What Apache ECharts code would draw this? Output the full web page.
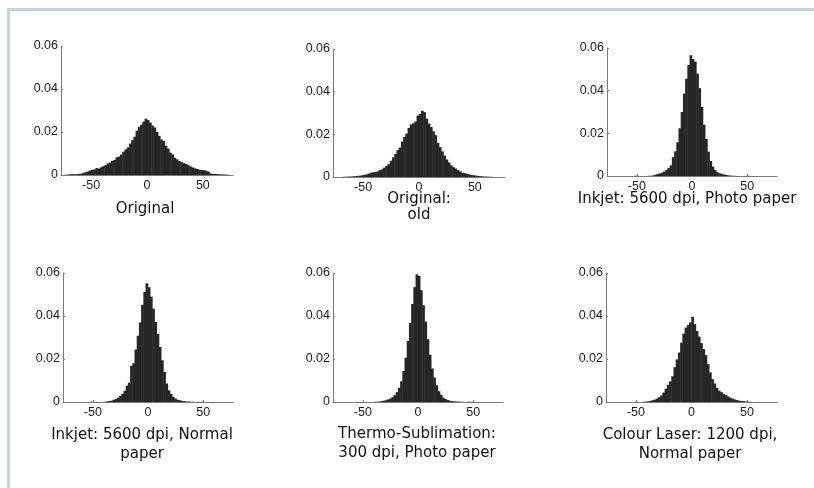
<!DOCTYPE html>
<html>
<head>
<meta charset="utf-8">
<script src="https://cdn.jsdelivr.net/npm/echarts@6/dist/echarts.min.js"></script>
<style>
  html, body { margin: 0; padding: 0; background: #fff; }
  #main { width: 814px; height: 488px; }
</style>
</head>
<body>
<div id="main"></div>
<script>
// bin centres (2-unit bins), shared by every panel
var binCenters = [-75, -73, -71, -69, -67, -65, -63, -61, -59, -57,
    -55, -53, -51, -49, -47, -45, -43, -41, -39, -37,
    -35, -33, -31, -29, -27, -25, -23, -21, -19, -17,
    -15, -13, -11, -9, -7, -5, -3, -1,
    1, 3, 5, 7, 9, 11, 13, 15, 17, 19,
    21, 23, 25, 27, 29, 31, 33, 35, 37, 39,
    41, 43, 45, 47, 49, 51, 53, 55, 57, 59,
    61, 63, 65, 67, 69, 71, 73, 75];

// relative frequency, in thousandths
var originalVals = [0, 0.1, 0.2, 0.3, 0.4, 0.3, 0.4, 0.5, 0.6, 0.9,
    1.3, 1.6, 2.1, 2.4, 2.6, 3.2, 3.0, 3.6, 4.1, 4.6,
    5.4, 5.8, 6.6, 7.0, 8.2, 8.6, 9.5, 10.8, 11.9, 12.8,
    14.6, 16.2, 17.8, 20.6, 22.4, 23.4, 24.8, 26.2,
    25.6, 24.4, 23.0, 22.1, 20.0, 18.2, 16.5, 15.8, 13.6, 12.3,
    10.4, 9.6, 8.0, 7.3, 6.5, 6.0, 5.5, 5.2, 4.6, 4.0,
    3.5, 3.1, 2.8, 2.5, 2.3, 2.2, 2.0, 1.6, 0.7, 0.5,
    0.5, 0.4, 0.3, 0.3, 0.2, 0.2, 0.1, 0];

var originalOldVals = [0, 0, 0, 0, 0.1, 0.1, 0.2, 0.2, 0.3, 0.4,
    0.5, 0.6, 0.8, 1.0, 1.2, 1.6, 2.0, 2.2, 2.4, 2.6,
    3.2, 3.6, 4.4, 5.2, 6.0, 7.6, 9.2, 10.8, 12.6, 13.8,
    16.6, 18.8, 20.4, 23.0, 24.6, 25.2, 26.0, 28.8,
    29.6, 31.0, 30.4, 27.4, 25.0, 23.4, 21.4, 19.6, 16.0, 14.0,
    12.0, 10.0, 8.2, 6.8, 5.4, 4.6, 4.0, 3.2, 2.6, 2.0,
    1.8, 1.5, 1.2, 1.0, 0.8, 0.6, 0.5, 0.4, 0.3, 0.2,
    0.2, 0.1, 0.1, 0, 0, 0, 0, 0];

var inkjetPhotoVals = [0, 0, 0, 0, 0, 0, 0, 0, 0, 0,
    0, 0, 0.1, 0.1, 0, 0, 0, 0, 0.1, 0.1,
    0.3, 0.6, 0.9, 1.2, 1.6, 2.1, 2.8, 3.8, 5.0, 8.8,
    11.6, 15.8, 22.4, 30.0, 38.6, 45.6, 52.0, 56.6,
    54.8, 53.6, 48.0, 41.2, 32.4, 24.0, 17.4, 11.4, 7.0, 4.4,
    2.8, 1.8, 1.3, 1.0, 0.7, 0.5, 0.3, 0.2, 0.1, 0.1,
    0, 0, 0, 0, 0, 0.1, 0, 0, 0, 0,
    0, 0, 0, 0, 0, 0, 0, 0];

var inkjetNormalVals = [0, 0, 0, 0, 0, 0, 0, 0, 0, 0,
    0, 0, 0.1, 0, 0, 0, 0, 0, 0.1, 0.3,
    0.4, 0.6, 1.0, 1.4, 2.0, 2.8, 3.8, 5.2, 7.6, 9.0,
    16.8, 18.0, 24.4, 30.8, 37.0, 45.2, 51.2, 55.2,
    53.4, 49.0, 43.4, 37.2, 31.6, 25.6, 19.4, 14.0, 8.6, 5.4,
    3.8, 2.4, 1.6, 1.0, 0.8, 0.5, 0.4, 0.2, 0.2, 0.1,
    0.1, 0, 0.1, 0, 0.1, 0, 0, 0, 0, 0,
    0, 0, 0, 0, 0, 0, 0, 0];

var thermoVals = [0, 0, 0, 0, 0, 0, 0, 0, 0, 0,
    0, 0, 0, 0, 0, 0, 0, 0, 0.1, 0.1,
    0.2, 0.4, 0.6, 0.8, 1.2, 1.6, 2.2, 3.2, 4.6, 6.6,
    9.6, 14.4, 20.6, 28.4, 36.8, 45.6, 53.4, 59.4,
    58.6, 52.0, 45.0, 37.4, 29.2, 22.0, 15.6, 11.4, 7.8, 5.0,
    3.4, 2.0, 1.4, 0.9, 0.6, 0.4, 0.3, 0.2, 0.2, 0.1,
    0.1, 0, 0.1, 0.1, 0.1, 0, 0, 0, 0, 0,
    0, 0, 0, 0, 0, 0, 0, 0];

var laserVals = [0, 0, 0, 0, 0, 0, 0, 0, 0, 0,
    0, 0, 0, 0.1, 0, 0, 0.1, 0.2, 0.3, 0.5,
    0.8, 1.1, 1.6, 2.2, 3.0, 4.4, 6.2, 8.0, 9.6, 12.0,
    16.2, 19.8, 23.0, 27.6, 31.8, 34.6, 35.8, 37.0,
    39.6, 36.2, 33.0, 30.4, 27.4, 24.6, 21.8, 17.6, 13.8, 10.6,
    8.6, 6.6, 5.2, 4.6, 3.8, 3.2, 2.6, 2.0, 1.6, 1.2,
    0.9, 0.6, 0.5, 0.4, 0.2, 0.1, 0.1, 0, 0, 0,
    0, 0, 0, 0, 0, 0, 0, 0];

var xTicks = [-50, 0, 50];

var panelVals = [originalVals, originalOldVals, inkjetPhotoVals,
    inkjetNormalVals, thermoVals, laserVals];
var panelTitles = ['Original', 'Original:\nold', 'Inkjet: 5600 dpi, Photo paper',
    'Inkjet: 5600 dpi, Normal\npaper', 'Thermo-Sublimation:\n300 dpi, Photo paper',
    'Colour Laser: 1200 dpi,\nNormal paper'];

// layout of each small plot: [left, top, width, height]
var grids = [
    [61, 46, 172, 129], [333, 49, 172, 128], [607, 48, 170, 128],
    [63, 273, 170, 129], [333, 273, 170, 129], [606, 273, 171, 129]
];
// title centre [x, y, lineHeight]
var titlePos = [
    [145, 209, 16], [419, 207, 16], [687, 199.5, 16],
    [142, 445, 19], [417, 444, 19], [690, 445, 19]
];

var axisColor = '#7a7a7a';
var labelStyle = { color: '#1a1a1a', fontFamily: 'Liberation Sans', fontSize: 12.5 };

var option = {
    animation: false,
    backgroundColor: '#fff',
    grid: [],
    xAxis: [],
    yAxis: [],
    series: [],
    graphic: [
        { type: 'rect', shape: { x: 7, y: 8, width: 3, height: 480 }, style: { fill: '#c6d2e1' } },
        { type: 'rect', shape: { x: 7, y: 8, width: 807, height: 3 }, style: { fill: '#c6d2e1' } }
    ]
};

for (var i = 0; i < 6; i++) {
    var g = grids[i];
    option.grid.push({ left: g[0], top: g[1], width: g[2], height: g[3], containLabel: false });
    option.xAxis.push({
        type: 'value', gridIndex: i, min: -77, max: 77,
        splitLine: { show: false },
        axisLine: { show: true, onZero: false, lineStyle: { color: axisColor, width: 1 } },
        axisTick: { show: true, inside: true, length: 2, customValues: xTicks, lineStyle: { color: axisColor } },
        axisLabel: Object.assign({ margin: 4, customValues: xTicks }, labelStyle)
    });
    option.yAxis.push({
        type: 'value', gridIndex: i, min: 0, max: 0.06, interval: 0.02,
        splitLine: { show: false },
        axisLine: { show: true, onZero: false, lineStyle: { color: axisColor, width: 1 } },
        axisTick: { show: true, inside: true, length: 2, lineStyle: { color: axisColor } },
        axisLabel: Object.assign({
            margin: 3,
            formatter: function(v) { return v === 0 ? '0' : v.toFixed(2); }
        }, labelStyle)
    });
    var vals = panelVals[i];
    var data = binCenters.map(function(c, k) {
        return [c, vals[k] / 1000];
    });
    option.series.push({
        type: 'bar', xAxisIndex: i, yAxisIndex: i,
        data: data,
        barWidth: 2.7,
        itemStyle: { color: '#262626' },
        silent: true
    });
    var t = titlePos[i];
    option.graphic.push({
        type: 'text', x: t[0], y: t[1],
        style: {
            text: panelTitles[i],
            fill: '#111',
            font: '15px "DejaVu Sans"',
            lineHeight: t[2],
            align: 'center',
            verticalAlign: 'middle'
        }
    });
}

var chart = echarts.init(document.getElementById('main'), null, { renderer: 'canvas' });
chart.setOption(option);
</script>
</body>
</html>
